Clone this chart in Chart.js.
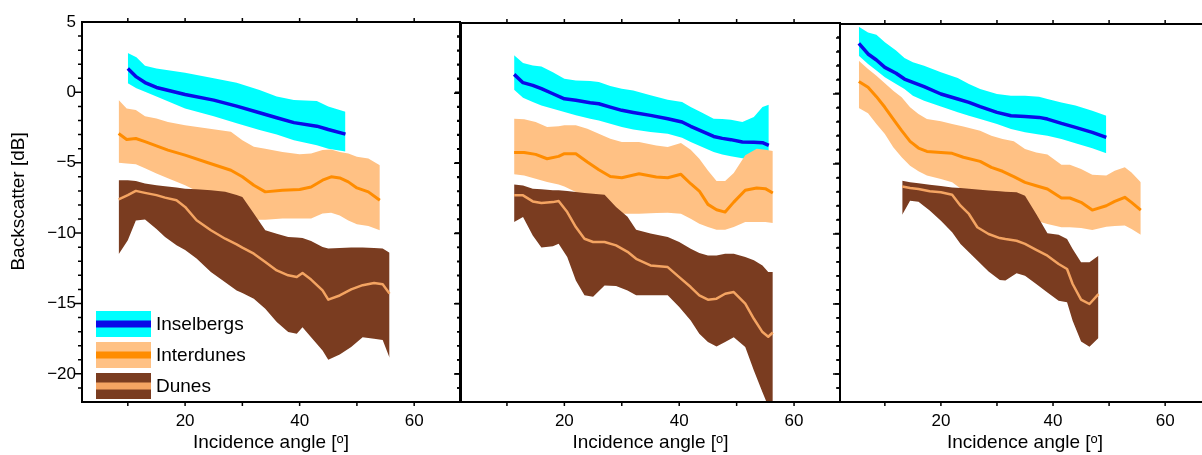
<!DOCTYPE html>
<html>
<head>
<meta charset="utf-8">
<script src="https://cdn.jsdelivr.net/npm/chart.js@4.4.1/dist/chart.umd.min.js"></script>
<style>
  body { margin: 0; width: 1202px; height: 455px; overflow: hidden; background: #fff; position: relative; }
  canvas { position: absolute; top: 0; }
</style>
</head>
<body>
<canvas id="panel1" width="470" height="455" style="left:0px"></canvas>
<canvas id="panel2" width="400" height="455" style="left:451px"></canvas>
<canvas id="panel3" width="390" height="455" style="left:830px"></canvas>
<script>
// axes
const xMin = 2, xMax = 68, yMin = -22, yMax = 5;
const xTickValues = [20, 40, 60];
const yTickValues = [-20, -15, -10, -5, 0, 5];
const seriesNames = ['Inselbergs', 'Interdunes', 'Dunes'];

// panel 1
const p1InselX = [10, 11.5, 13, 15, 20, 25, 29, 33, 36, 39, 43, 45, 48];
const p1InselMean = [1.7, 1.1, 0.7, 0.35, -0.15, -0.55, -0.98, -1.45, -1.8, -2.15, -2.4, -2.64, -2.97];
const p1InselHigh = [2.8, 2.5, 1.9, 1.7, 1.4, 1.0, 0.68, 0.16, -0.3, -0.55, -0.62, -1.0, -1.38];
const p1InselLow = [0.64, 0.3, 0.05, -0.3, -1.15, -1.7, -2.2, -2.68, -3.0, -3.4, -3.75, -4.0, -4.2];

const p1InterX = [8.4, 9.8, 11.4, 13, 15, 17, 20, 24, 28, 30, 32, 34, 37, 40, 42, 44, 45.5, 47, 48.5, 50, 52, 54];
const p1InterMean = [-2.92, -3.35, -3.28, -3.5, -3.8, -4.1, -4.46, -5.0, -5.53, -6.0, -6.6, -7.07, -6.95, -6.9, -6.72, -6.24, -6.0, -6.08, -6.36, -6.79, -7.07, -7.67];
const p1InterHigh = [-0.55, -1.14, -1.26, -1.7, -1.85, -2.1, -2.33, -2.57, -2.8, -3.4, -3.87, -4.0, -4.23, -4.4, -4.35, -4.1, -4.06, -4.23, -4.35, -4.58, -4.7, -5.18];
const p1InterLow = [-5.0, -5.05, -5.1, -5.4, -5.77, -6.1, -6.6, -7.4, -8.6, -8.97, -9.05, -9.05, -8.97, -8.97, -8.97, -8.6, -8.55, -8.74, -9.1, -9.37, -9.5, -9.8];

const p1DuneX = [8.4, 10, 11.4, 13, 15, 16.5, 18.5, 20, 22, 24.5, 27, 29, 30, 32, 34, 36, 38, 39.5, 40.5, 42, 44, 45, 47, 49, 51, 53, 54.5, 55.7];
const p1DuneMean = [-7.6, -7.3, -7.0, -7.14, -7.3, -7.48, -7.67, -8.14, -9.09, -9.8, -10.4, -10.8, -11.03, -11.46, -12.05, -12.65, -13.0, -13.12, -12.84, -13.3, -14.07, -14.73, -14.43, -14.0, -13.7, -13.55, -13.64, -14.3];
const p1DuneHigh = [-6.24, -6.24, -6.3, -6.48, -6.6, -6.67, -6.76, -6.84, -6.88, -6.95, -7.07, -7.3, -7.43, -8.6, -9.8, -10.04, -10.27, -10.32, -10.35, -10.56, -10.98, -11.1, -11.06, -11.03, -11.03, -11.06, -11.1, -11.4];
const p1DuneLow = [-11.5, -10.5, -9.1, -9.04, -9.7, -10.27, -10.87, -11.2, -11.8, -12.76, -13.5, -14.07, -14.26, -14.66, -15.37, -16.32, -17.03, -17.15, -16.68, -17.4, -18.34, -19.0, -18.63, -18.1, -17.4, -17.5, -17.6, -18.86];

// panel 2
const p2InselX = [11.25, 12.8, 14.5, 16, 18, 20, 22, 24.5, 26, 28, 30, 32, 35, 38, 40.5, 42, 44, 46, 47.5, 49, 51, 53, 54.5, 55.6];
const p2InselMean = [1.34, 0.75, 0.56, 0.32, -0.04, -0.4, -0.51, -0.68, -0.75, -0.99, -1.22, -1.37, -1.58, -1.82, -2.05, -2.36, -2.72, -3.08, -3.22, -3.31, -3.48, -3.5, -3.53, -3.72];
const p2InselHigh = [2.7, 2.15, 1.98, 1.9, 1.5, 1.03, 0.91, 0.87, 0.8, 0.51, 0.32, 0.2, -0.15, -0.46, -0.63, -0.99, -1.39, -1.82, -1.84, -1.89, -2.05, -1.7, -0.99, -0.82];
const p2InselLow = [0.25, -0.32, -0.63, -0.87, -1.1, -1.34, -1.58, -1.82, -1.94, -2.17, -2.41, -2.58, -2.77, -2.89, -3.17, -3.48, -3.84, -4.19, -4.36, -4.5, -4.64, -4.74, -4.83, -4.93];

const p2InterX = [11.25, 13, 15, 17, 19, 20, 22, 24, 26, 28, 30, 33, 36, 38, 40.3, 42, 43.5, 45, 46.5, 48, 49.5, 51.5, 53.5, 55, 56.3];
const p2InterMean = [-4.22, -4.22, -4.36, -4.67, -4.5, -4.31, -4.31, -4.9, -5.45, -5.93, -6.02, -5.74, -5.97, -6.02, -5.78, -6.45, -6.97, -7.92, -8.3, -8.47, -7.76, -6.92, -6.76, -6.8, -7.11];
const p2InterHigh = [-1.82, -1.86, -2.05, -2.41, -2.36, -2.29, -2.29, -2.53, -2.89, -3.24, -3.48, -3.48, -3.72, -3.84, -3.55, -4.03, -4.67, -5.5, -6.26, -6.26, -5.69, -4.43, -3.96, -4.03, -4.12];
const p2InterLow = [-5.78, -5.86, -6.09, -6.33, -6.5, -6.64, -7.04, -7.6, -8.1, -8.47, -8.59, -8.59, -8.54, -8.52, -8.59, -8.94, -9.3, -9.54, -9.73, -9.73, -9.54, -9.18, -9.18, -9.18, -9.25];

const p2DuneX = [11.25, 12.8, 14.5, 16, 18, 19, 20.5, 22, 23.5, 25, 27, 29, 31, 32.5, 35, 38, 40, 42, 43.5, 45, 46.5, 48, 49.5, 51.5, 53, 54.5, 55.5, 56.3];
const p2DuneMean = [-7.28, -7.28, -7.71, -7.83, -7.76, -7.68, -8.47, -9.54, -10.37, -10.6, -10.6, -10.84, -11.3, -11.8, -12.27, -12.39, -13.1, -13.81, -14.4, -14.71, -14.64, -14.29, -14.17, -15.0, -16.07, -17.02, -17.35, -17.05];
const p2DuneHigh = [-6.5, -6.57, -6.8, -6.85, -6.92, -6.92, -6.97, -7.04, -7.11, -7.16, -7.23, -8.1, -8.8, -9.73, -10.0, -10.25, -10.6, -11.08, -11.39, -11.56, -11.56, -11.44, -11.44, -11.67, -11.91, -12.27, -12.74, -12.74];
const p2DuneLow = [-9.18, -8.82, -10.13, -11.0, -10.9, -10.72, -11.67, -13.34, -14.4, -14.5, -13.7, -13.74, -14.05, -14.4, -14.4, -14.4, -15.24, -16.19, -17.14, -17.73, -18.04, -17.73, -17.38, -18.09, -19.75, -21.3, -22.3, -22.5];

// panel 3
const p3InselX = [5.36, 7, 8.5, 10, 12, 13.5, 15, 17, 20, 23, 25, 27, 30, 32.5, 35, 37.5, 39, 41.5, 44, 47, 49.5];
const p3InselMean = [3.62, 2.86, 2.43, 1.9, 1.48, 1.07, 0.83, 0.52, 0.0, -0.36, -0.6, -0.9, -1.31, -1.55, -1.6, -1.67, -1.79, -2.1, -2.38, -2.74, -3.1];
const p3InselHigh = [4.81, 4.4, 4.24, 3.69, 3.1, 2.57, 2.26, 2.02, 1.55, 1.14, 0.71, 0.36, 0.0, -0.12, -0.12, -0.19, -0.36, -0.6, -0.83, -1.19, -1.55];
const p3InselLow = [2.74, 2.14, 1.67, 1.19, 0.71, 0.36, -0.12, -0.48, -0.9, -1.31, -1.55, -1.79, -2.14, -2.5, -2.74, -2.9, -2.98, -3.21, -3.52, -3.88, -4.24];

const p3InterX = [5.36, 7, 8.5, 10, 11.5, 13, 14.5, 16, 17.5, 20, 22, 24, 27, 29, 31, 33, 35, 37, 39, 41.5, 43, 45, 47, 49.5, 51, 52.8, 54, 55.65];
const p3InterMean = [0.9, 0.48, -0.19, -0.95, -1.79, -2.62, -3.38, -3.86, -4.1, -4.17, -4.24, -4.52, -4.81, -5.24, -5.52, -5.9, -6.31, -6.55, -6.79, -7.43, -7.43, -7.74, -8.29, -7.98, -7.67, -7.38, -7.74, -8.29];
const p3InterHigh = [2.38, 1.79, 1.31, 0.76, 0.24, -0.24, -0.95, -1.43, -1.79, -1.95, -2.14, -2.33, -2.62, -2.98, -3.21, -3.38, -3.93, -4.17, -4.33, -5.05, -5.05, -5.36, -5.76, -5.83, -5.48, -5.24, -5.6, -6.31];
const p3InterLow = [-1.0, -1.38, -2.14, -2.86, -3.81, -4.52, -5.12, -5.52, -5.83, -6.07, -6.31, -6.9, -7.86, -8.57, -8.76, -8.86, -8.93, -9.05, -9.29, -9.52, -9.52, -9.57, -9.71, -9.48, -9.43, -9.4, -9.64, -10.05];

const p3DuneX = [13.1, 14.5, 16, 18, 20, 22, 23.5, 25, 26.5, 28.5, 30.5, 31.5, 33.5, 35, 37, 39, 41, 42.5, 43.5, 45, 46.5, 48.1];
const p3DuneMean = [-6.6, -6.71, -6.79, -6.95, -7.02, -7.19, -7.98, -8.57, -9.52, -10.0, -10.29, -10.36, -10.48, -10.71, -11.14, -11.55, -12.14, -12.5, -13.57, -14.69, -15.0, -14.29];
const p3DuneHigh = [-6.19, -6.31, -6.38, -6.48, -6.57, -6.67, -6.71, -6.76, -6.83, -6.9, -6.95, -6.98, -7.02, -7.26, -8.57, -9.95, -10.05, -10.36, -11.07, -12.02, -12.02, -11.55];
const p3DuneLow = [-8.62, -7.62, -7.69, -8.33, -9.05, -9.88, -10.71, -11.31, -11.9, -12.67, -13.29, -13.33, -12.81, -12.98, -13.57, -14.17, -14.76, -14.88, -16.19, -17.67, -18.05, -17.43];

// colours: band, line
const bandColors = ['#00ffff', '#ffc184', '#7a3c20'];
const lineColors = ['#0a0ae8', '#ff8c00', '#f4a462'];
const lineWidths = [3.5, 3, 2.5];

const fontFamily = '"Liberation Sans", Arial, Helvetica, sans-serif';

function pts(xs, ys) {
  return xs.map((v, i) => ({ x: v, y: ys[i] }));
}

function buildDatasets(series) {
  const bands = [];
  const lines = [];
  series.forEach((s, i) => {
    const hiIndex = bands.length;
    bands.push({
      data: pts(s.x, s.high), borderColor: 'rgba(0,0,0,0)', borderWidth: 0,
      pointRadius: 0, fill: false, order: 6 - i
    });
    bands.push({
      data: pts(s.x, s.low), borderColor: 'rgba(0,0,0,0)', borderWidth: 0,
      pointRadius: 0, fill: hiIndex, backgroundColor: bandColors[i], order: 6 - i
    });
    lines.push({
      label: seriesNames[i], data: pts(s.x, s.mean), borderColor: lineColors[i],
      borderWidth: lineWidths[i], pointRadius: 0, fill: false, order: 3 - i,
      borderJoinStyle: 'round', borderCapStyle: 'butt'
    });
  });
  return bands.concat(lines);
}

// frame + tick marks drawn from the scales
const frameTicks = {
  id: 'frameTicks',
  afterDraw(chart) {
    const { ctx, chartArea: a, scales: { x, y } } = chart;
    ctx.save();
    ctx.strokeStyle = '#000';
    ctx.lineWidth = 1.5;
    ctx.beginPath();
    for (let v = 10; v <= 60; v += 10) {
      const px = x.getPixelForValue(v);
      ctx.moveTo(px, a.top); ctx.lineTo(px, a.top - 4);
      ctx.moveTo(px, a.bottom); ctx.lineTo(px, a.bottom + 4);
    }
    for (let v = -21; v <= 4; v++) {
      const py = y.getPixelForValue(v);
      const major = v % 5 === 0;
      ctx.moveTo(a.left, py); ctx.lineTo(a.left - (major ? 7 : 4), py);
      ctx.moveTo(a.right, py); ctx.lineTo(a.right - (major ? 5 : 3), py);
    }
    ctx.stroke();
    ctx.lineWidth = 2;
    ctx.strokeRect(a.left, a.top, a.right - a.left, a.bottom - a.top);
    ctx.restore();
  }
};

const bandLegend = {
  id: 'bandLegend',
  afterDatasetsDraw(chart) {
    const { ctx, chartArea: a } = chart;
    ctx.save();
    ctx.font = '19px ' + fontFamily;
    ctx.textBaseline = 'middle';
    seriesNames.forEach((name, i) => {
      const left = a.left + 14;
      const top = a.bottom - 91 + i * 31;
      ctx.fillStyle = bandColors[i];
      ctx.fillRect(left, top, 55, 26);
      ctx.fillStyle = lineColors[i];
      ctx.fillRect(left, top + 9.5, 55, 7);
      ctx.fillStyle = '#000';
      ctx.fillText(name, left + 60, top + 14);
    });
    ctx.restore();
  }
};

function makePanel(id, series, cfg) {
  const plugins = [frameTicks];
  if (cfg.legend) plugins.push(bandLegend);
  return new Chart(document.getElementById(id), {
    type: 'line',
    data: { datasets: buildDatasets(series) },
    plugins: plugins,
    options: {
      responsive: false,
      animation: false,
      layout: { padding: { top: cfg.top, right: cfg.right, left: 0, bottom: 0 } },
      plugins: { legend: { display: false }, tooltip: { enabled: false } },
      scales: {
        x: {
          type: 'linear', min: xMin, max: xMax,
          afterBuildTicks: (s) => { s.ticks = xTickValues.map(v => ({ value: v })); },
          afterFit: (s) => { s.height = 53; },
          grid: { display: false, drawTicks: false },
          border: { display: false },
          ticks: { color: '#000', padding: 9, font: { size: 17, family: fontFamily } },
          title: {
            display: true, text: 'Incidence angle [ᵒ]', color: '#000',
            font: { size: 19, family: fontFamily }, padding: { top: 0, bottom: 1 }
          }
        },
        y: {
          type: 'linear', min: yMin, max: yMax,
          afterBuildTicks: (s) => { s.ticks = yTickValues.map(v => ({ value: v })); },
          afterFit: (s) => { s.width = cfg.yWidth; },
          grid: { display: false, drawTicks: false },
          border: { display: false },
          ticks: {
            display: cfg.yLabels, color: '#000', padding: 6,
            font: { size: 17, family: fontFamily },
            callback: (v) => String(v).replace('-', '\u2212')
          },
          title: {
            display: cfg.yLabels, text: '    Backscatter [dB]', color: '#000',
            font: { size: 19, family: fontFamily }, padding: { top: 7, bottom: 0 }
          }
        }
      }
    }
  });
}

makePanel('panel1', [
  { x: p1InselX, mean: p1InselMean, high: p1InselHigh, low: p1InselLow },
  { x: p1InterX, mean: p1InterMean, high: p1InterHigh, low: p1InterLow },
  { x: p1DuneX, mean: p1DuneMean, high: p1DuneHigh, low: p1DuneLow }
], { top: 22, right: 10, yWidth: 82, yLabels: true, legend: true });

makePanel('panel2', [
  { x: p2InselX, mean: p2InselMean, high: p2InselHigh, low: p2InselLow },
  { x: p2InterX, mean: p2InterMean, high: p2InterHigh, low: p2InterLow },
  { x: p2DuneX, mean: p2DuneMean, high: p2DuneHigh, low: p2DuneLow }
], { top: 23, right: 11, yWidth: 10, yLabels: false, legend: false });

makePanel('panel3', [
  { x: p3InselX, mean: p3InselMean, high: p3InselHigh, low: p3InselLow },
  { x: p3InterX, mean: p3InterMean, high: p3InterHigh, low: p3InterLow },
  { x: p3DuneX, mean: p3DuneMean, high: p3DuneHigh, low: p3DuneLow }
], { top: 24, right: 10, yWidth: 10, yLabels: false, legend: false });
</script>
</body>
</html>
